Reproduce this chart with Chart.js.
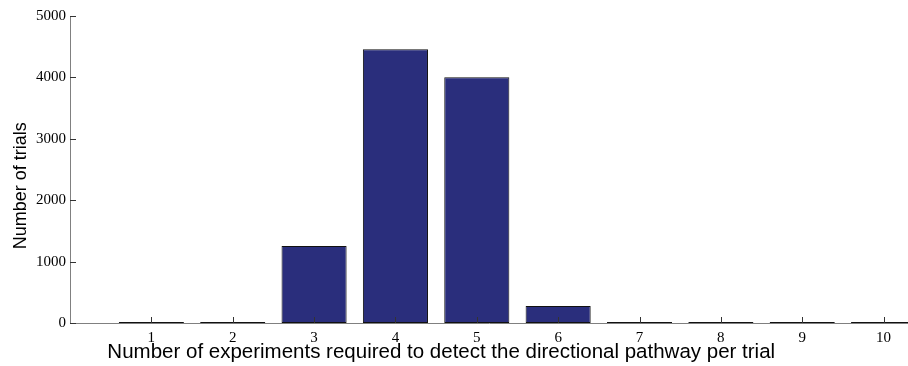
<!DOCTYPE html>
<html>
<head>
<meta charset="utf-8">
<script src="https://cdn.jsdelivr.net/npm/chart.js@4.4.1/dist/chart.umd.min.js"></script>
<style>
  html, body { margin: 0; padding: 0; background: #ffffff; }
  #wrap { width: 908px; height: 366px; position: relative; }
</style>
</head>
<body>
<div id="wrap"><canvas id="chart"></canvas></div>
<script>
// Experiments needed per trial and how many trials needed that many
const experiments = [1, 2, 3, 4, 5, 6, 7, 8, 9, 10];
const trialCounts = [2, 3, 1254, 4458, 4001, 277, 2, 1, 1, 1];
const yTickValues = [0, 1000, 2000, 3000, 4000, 5000];

const xTitle = 'Number of experiments required to detect the directional pathway per trial';
const yTitle = 'Number of trials';

const BAR_FILL = '#2a2e7c';
const AXIS_GREY = '#808080';
const SERIF = '"Liberation Serif", "Times New Roman", serif';
const X_TITLE_FONT = '20.5px "Liberation Sans", Arial, Helvetica, sans-serif';
const Y_TITLE_FONT = '18px "Liberation Sans", Arial, Helvetica, sans-serif';

// MATLAB-style axes: tick marks point inward, titles drawn by hand
const inwardAxes = {
  id: 'inwardAxes',
  afterDatasetsDraw(chart) {
    const { ctx, chartArea, scales } = chart;
    const xs = scales.x, ys = scales.y;
    ctx.save();
    ctx.strokeStyle = '#333333';
    ctx.lineWidth = 1;
    ctx.beginPath();
    yTickValues.forEach(v => {
      const py = Math.round(ys.getPixelForValue(v)) + 0.5;
      ctx.moveTo(chartArea.left, py);
      ctx.lineTo(chartArea.left + 6, py);
    });
    experiments.forEach(v => {
      const px = Math.round(xs.getPixelForValue(v)) + 0.5;
      ctx.moveTo(px, chartArea.bottom);
      ctx.lineTo(px, chartArea.bottom - 6);
    });
    ctx.stroke();

    ctx.fillStyle = '#000000';
    ctx.textAlign = 'center';
    ctx.textBaseline = 'alphabetic';
    const w = chartArea.right - chartArea.left;
    const h = chartArea.bottom - chartArea.top;
    ctx.font = X_TITLE_FONT;
    ctx.fillText(xTitle, chartArea.left + 0.443 * w, chart.height - 8);

    ctx.font = Y_TITLE_FONT;
    ctx.translate(26, chartArea.top + 0.553 * h);
    ctx.rotate(-Math.PI / 2);
    ctx.fillText(yTitle, 0, 0);
    ctx.restore();
  }
};

new Chart(document.getElementById('chart'), {
  type: 'bar',
  data: {
    datasets: [{
      data: experiments.map((x, i) => ({ x: x, y: trialCounts[i] })),
      backgroundColor: BAR_FILL,
      borderColor: '#111111',
      borderWidth: 1,
      borderSkipped: false,
      barPercentage: 0.8,
      categoryPercentage: 1.0,
      minBarLength: 1
    }]
  },
  options: {
    responsive: true,
    maintainAspectRatio: false,
    animation: false,
    layout: { padding: { top: 16, right: 0, bottom: 0, left: 0 } },
    plugins: { legend: { display: false }, tooltip: { enabled: false } },
    scales: {
      x: {
        type: 'linear',
        offset: false,
        min: 0,
        max: 10.3,
        afterBuildTicks: scale => { scale.ticks = experiments.map(v => ({ value: v })); },
        afterFit: scale => { scale.height = 43; },
        border: { display: true, color: AXIS_GREY, width: 1 },
        grid: { display: false, drawTicks: false },
        ticks: {
          padding: 6,
          maxRotation: 0,
          autoSkip: false,
          color: '#000000',
          font: { family: SERIF, size: 15 },
          callback: v => String(v)
        }
      },
      y: {
        min: 0,
        max: 5000,
        afterBuildTicks: scale => { scale.ticks = yTickValues.map(v => ({ value: v })); },
        afterFit: scale => { scale.width = 70; },
        border: { display: true, color: AXIS_GREY, width: 1 },
        grid: { display: false, drawTicks: false },
        ticks: {
          padding: 4,
          color: '#000000',
          font: { family: SERIF, size: 15 },
          callback: v => String(v)
        }
      }
    }
  },
  plugins: [inwardAxes]
});
</script>
</body>
</html>
